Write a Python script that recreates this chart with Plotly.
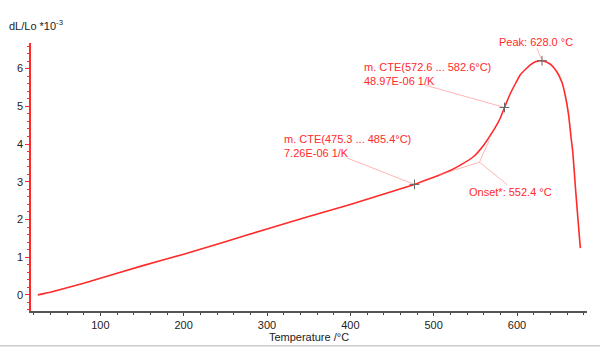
import plotly.graph_objects as go

# ---- data ----
temps = [25, 40, 60, 80, 100, 150, 200, 250, 300, 350, 400, 450, 477, 500, 520, 532,
         548, 560, 568, 574, 580, 585, 592, 604, 616, 623, 630, 636, 641, 648, 654,
         658, 662, 665, 667, 670, 673, 676]
dl = [0.0, 0.07, 0.19, 0.31, 0.44, 0.77, 1.08, 1.41, 1.75, 2.08, 2.40, 2.74, 2.93, 3.12,
      3.30, 3.44, 3.67, 3.97, 4.23, 4.44, 4.69, 4.97, 5.34, 5.84, 6.10, 6.19, 6.21, 6.17,
      6.10, 5.91, 5.63, 5.28, 4.76, 4.15, 3.78, 2.88, 2.05, 1.24]

marker_t = [477.0, 585.0, 630.0]
marker_v = [2.93, 4.97, 6.21]

onset_t, onset_v = 555.0, 3.52
tan1_t = [505, 555.0]
tan1_v = [3.17, 3.52]
tan2_t = [555.0, 567]
tan2_v = [3.52, 4.12]

x_ticks = [100, 200, 300, 400, 500, 600]
y_ticks = [0, 1, 2, 3, 4, 5, 6]

RED = "#ff2a2a"
PINK = "rgba(255,120,120,0.55)"
FONT = "Liberation Sans, Arial, sans-serif"

# plot-area geometry (pixels)
L, R, T, B = 31, 13, 43, 37
PW, PH = 600 - L - R, 353 - T - B

fig = go.Figure()
fig.add_trace(go.Scatter(x=temps, y=dl, mode="lines",
                         line=dict(color=RED, width=1.6, shape="spline", smoothing=0.35),
                         hoverinfo="skip"))
# tangent lines for onset
fig.add_trace(go.Scatter(x=tan1_t, y=tan1_v, mode="lines", line=dict(color=PINK, width=1)))
fig.add_trace(go.Scatter(x=tan2_t, y=tan2_v, mode="lines", line=dict(color=PINK, width=1)))

# leader lines
leaders = [
    ((396, 3.63), (marker_t[0], marker_v[0])),
    ((490, 5.56), (marker_t[1], marker_v[1])),
    ((624, 6.54), (marker_t[2], marker_v[2])),
    ((588, 2.93), (onset_t, onset_v)),
]
for (a, b) in leaders:
    fig.add_trace(go.Scatter(x=[a[0], b[0]], y=[a[1], b[1]], mode="lines",
                             line=dict(color=PINK, width=1)))

fig.add_trace(go.Scatter(x=marker_t, y=marker_v, mode="markers",
                         marker=dict(symbol="cross-thin", size=7,
                                     line=dict(color="#666666", width=1))))

ann_font = dict(family=FONT, size=11, color=RED)
fig.add_annotation(x=318, y=3.95, xref="x", yref="y", showarrow=False,
                   text="m. CTE(475.3 ... 485.4°C)<br>7.26E-06 1/K",
                   xanchor="left", yanchor="middle", align="left", font=ann_font)
fig.add_annotation(x=414, y=5.87, xref="x", yref="y", showarrow=False,
                   text="m. CTE(572.6 ... 582.6°C)<br>48.97E-06 1/K",
                   xanchor="left", yanchor="middle", align="left", font=ann_font)
fig.add_annotation(x=(536.3 - L) / PW, y=(353 - B - 42.3) / PH, xref="paper", yref="paper",
                   showarrow=False, text="Peak: 628.0 °C",
                   xanchor="center", yanchor="middle", font=ann_font)
fig.add_annotation(x=540, y=2.74, xref="x", yref="y", showarrow=False,
                   text="Onset*: 552.4 °C", xanchor="left", yanchor="middle", font=ann_font)

# y-axis title
fig.add_annotation(x=(7 - L) / PW, y=(353 - B - 25) / PH, xref="paper", yref="paper",
                   showarrow=False, text="dL/Lo *10<sup>-3</sup>",
                   font=dict(family=FONT, size=11, color="#222"),
                   xanchor="left", yanchor="middle")

fig.update_layout(
    width=600, height=353,
    margin=dict(l=L, r=R, t=T, b=B),
    plot_bgcolor="white", paper_bgcolor="white",
    showlegend=False,
    font=dict(family=FONT, size=11, color="#222"),
)
fig.update_xaxes(range=[16.8, 684], tickvals=x_ticks, ticks="outside", ticklen=3,
                 tickcolor="#444", showline=True, linecolor="#555", linewidth=1.5,
                 showgrid=False, zeroline=False,
                 minor=dict(dtick=20, tick0=0, ticks="outside", ticklen=2, tickcolor="#444"),
                 title=dict(text="Temperature /°C", font=dict(size=11), standoff=2),
                 tickfont=dict(size=11, color="#222"))
fig.update_yaxes(range=[-0.427, 6.68], tickvals=y_ticks, ticks="outside", ticklen=4,
                 tickcolor=RED, showline=True, linecolor=RED, linewidth=1.5,
                 showgrid=False, zeroline=False,
                 minor=dict(dtick=0.2, tick0=0, ticks="outside", ticklen=2, tickcolor=RED),
                 tickfont=dict(size=11, color="#222"))

fig.add_shape(type="line", xref="paper", yref="paper", x0=-L / PW, x1=(600 - L) / PW,
              y0=-35.5 / PH, y1=-35.5 / PH, line=dict(color="#cccccc", width=1.5))

fig.write_html("out.html")
